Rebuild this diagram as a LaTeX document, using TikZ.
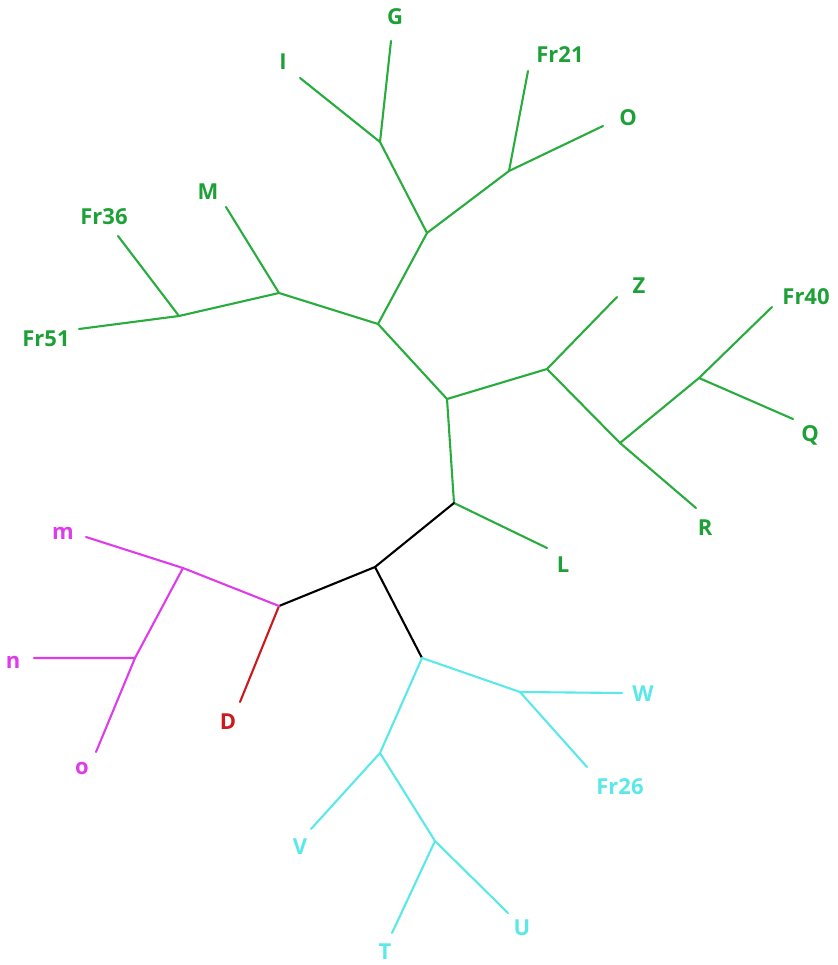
\documentclass[tikz,border=0pt]{standalone}
\usepackage{fontspec}
\setmainfont{Open Sans}
\definecolor{tgreen}{RGB}{40,172,62}
\definecolor{tgreentxt}{RGB}{28,160,55}
\definecolor{tmag}{RGB}{222,60,235}
\definecolor{tcyan}{RGB}{90,232,232}
\definecolor{tred}{RGB}{205,25,30}
\begin{document}
\begin{tikzpicture}[x=1pt,y=-1pt,
  br/.style={line width=2.1pt,line cap=round,line join=round},
  lab/.style={font=\fontsize{22}{24}\selectfont\bfseries,inner sep=0pt}]
\useasboundingbox (0,0) rectangle (837,965);
% internal nodes
\coordinate (A1) at (179,316);
\coordinate (A2) at (279,293);
\coordinate (A3) at (378,324);
\coordinate (A4) at (427,233);
\coordinate (A5) at (447,399);
\coordinate (A6) at (380,142);
\coordinate (A7) at (509,171);
\coordinate (A8) at (547,369);
\coordinate (A9) at (620,443);
\coordinate (A10) at (699,378);
\coordinate (A11) at (454,503);
\coordinate (A12) at (375,567);
\coordinate (A13) at (279,606);
\coordinate (A14) at (422,658);
\coordinate (A15) at (183,568);
\coordinate (A16) at (135,658);
\coordinate (A17) at (520,692);
\coordinate (A18) at (380,753);
\coordinate (A19) at (435,841);
% leaf ends
\coordinate (eFr36) at (118,236);
\coordinate (eFr51) at (79,329);
\coordinate (eM) at (226,207);
\coordinate (eI) at (300,78);
\coordinate (eG) at (391,41);
\coordinate (eFr21) at (528,71);
\coordinate (eO) at (603,126);
\coordinate (eZ) at (617,297);
\coordinate (eR) at (696,508);
\coordinate (eFr40) at (772,307);
\coordinate (eQ) at (793,419);
\coordinate (eL) at (547,548);
\coordinate (eD) at (240,702);
\coordinate (em) at (86,537);
\coordinate (en) at (34,658);
\coordinate (eo) at (96,752);
\coordinate (eW) at (622,693);
\coordinate (eFr26) at (587,767);
\coordinate (eV) at (311,829);
\coordinate (eT) at (392,933);
\coordinate (eU) at (508,913);
% labels
\begin{scope}[every node/.style={lab,text=tgreentxt}]
\node (lFr36) at (104,217) {Fr36};
\node (lFr51) at (46,339) {Fr51};
\node (lM) at (208,192) {M};
\node (lI) at (283,62) {I};
\node (lG) at (395,17) {G};
\node (lFr21) at (560,55) {Fr21};
\node (lO) at (628,118) {O};
\node (lZ) at (639,286) {Z};
\node (lFr40) at (806,297) {Fr40};
\node (lQ) at (810,435) {Q};
\node (lR) at (705,528) {R};
\node (lL) at (563,565) {L};
\end{scope}
\node[lab,text=tred] (lD) at (228,722) {D};
\begin{scope}[every node/.style={lab,text=tmag}]
\node (lm) at (63,533) {m};
\node (ln) at (13,662) {n};
\node (lo) at (82,768) {o};
\end{scope}
\begin{scope}[every node/.style={lab,text=tcyan}]
\node (lW) at (643,694) {W};
\node (lFr26) at (620,787) {Fr26};
\node (lV) at (300,847) {V};
\node (lT) at (385,952) {T};
\node (lU) at (522,928) {U};
\end{scope}
% branches
\begin{scope}[br,draw=tgreen]
\draw (eFr36) -- (A1);
\draw (eFr51) -- (A1) -- (A2) -- (A3);
\draw (eM) -- (A2);
\draw (eI) -- (A6);
\draw (eG) -- (A6) -- (A4) -- (A3) -- (A5) -- (A11);
\draw (A4) -- (A7) -- (eO);
\draw (eFr21) -- (A7);
\draw (A5) -- (A8) -- (eZ);
\draw (A8) -- (A9) -- (eR);
\draw (A9) -- (A10) -- (eFr40);
\draw (A10) -- (eQ);
\draw (A11) -- (eL);
\end{scope}
\draw[br,black] (A11) -- (A12) -- (A13);
\draw[br,black] (A12) -- (A14);
\draw[br,draw=tred] (A13) -- (eD);
\begin{scope}[br,draw=tmag]
\draw (A13) -- (A15) -- (em);
\draw (A15) -- (A16) -- (en);
\draw (A16) -- (eo);
\end{scope}
\begin{scope}[br,draw=tcyan]
\draw (A14) -- (A17) -- (eW);
\draw (A17) -- (eFr26);
\draw (A14) -- (A18) -- (eV);
\draw (A18) -- (A19) -- (eT);
\draw (A19) -- (eU);
\end{scope}
\end{tikzpicture}
\end{document}
